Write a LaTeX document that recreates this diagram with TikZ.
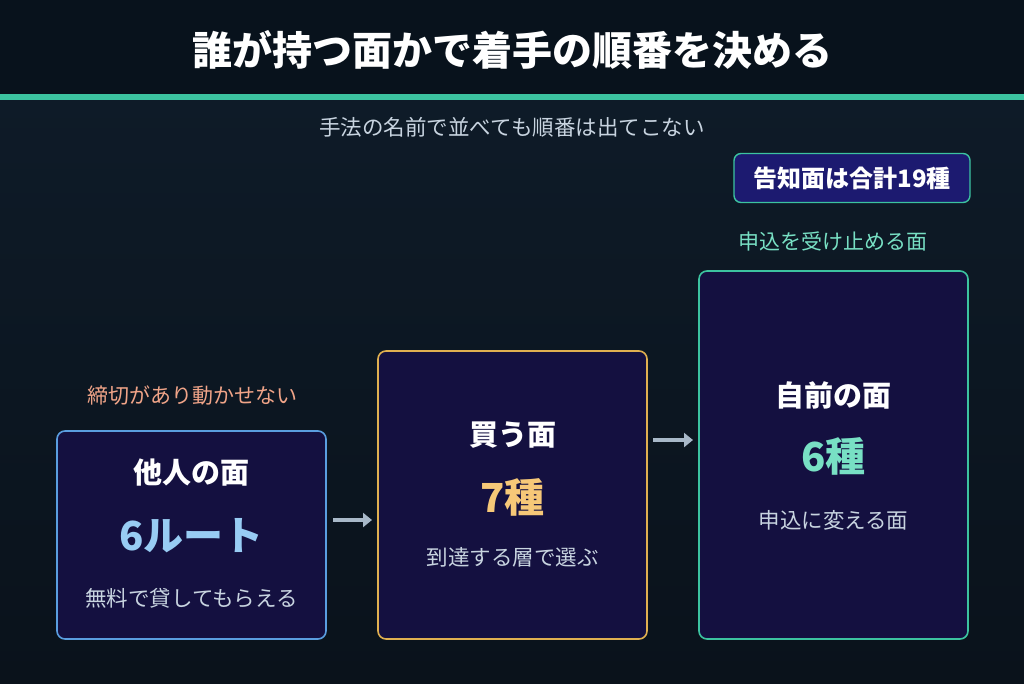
\documentclass[tikz,border=0pt]{standalone}
\usetikzlibrary{arrows.meta}
\usepackage{fontspec}
\setmainfont{Noto Sans CJK JP}
\definecolor{bgtop}{HTML}{0E1B28}
\definecolor{bgbot}{HTML}{0A121B}
\definecolor{titlebg}{HTML}{08121C}
\definecolor{teal}{HTML}{3CC3A0}
\definecolor{boxfill}{HTML}{141040}
\definecolor{bblue}{HTML}{5A9EE0}
\definecolor{bgold}{HTML}{E0B050}
\definecolor{tealtxt}{HTML}{78E0C4}
\definecolor{bluetxt}{HTML}{98CCF4}
\definecolor{goldtxt}{HTML}{F6C878}
\definecolor{salmon}{HTML}{F0A488}
\definecolor{sub}{HTML}{C8D4E0}
\definecolor{arr}{HTML}{A8B8C8}
\definecolor{badge}{HTML}{1C1A70}
\begin{document}
\begin{tikzpicture}[x=1pt,y=-1pt,
 box/.style={draw,line width=1.6pt,fill=boxfill,rounded corners=8pt},
 head/.style={text=white,font=\bfseries\fontsize{29}{33}\selectfont},
 big/.style={font=\bfseries\fontsize{40}{44}\selectfont},
 desc/.style={text=sub,font=\fontsize{21.5}{25}\selectfont},
 lab/.style={font=\fontsize{21}{25}\selectfont},
 ar/.style={draw=arr,line width=4pt,-{Triangle[length=9pt,width=14pt]}}]
\useasboundingbox (0,0) rectangle (1024,683);
\shade[top color=bgtop,bottom color=bgbot] (0,95) rectangle (1024,683);
\fill[titlebg] (0,0) rectangle (1024,95);
\fill[teal] (0,94) rectangle (1024,100);
\node[text=white,font=\bfseries\fontsize{40}{46}\selectfont] (title) at (512,50) {誰が持つ面かで着手の順番を決める};
\node[desc,font=\fontsize{21.5}{25}\selectfont] (subt) at (512,127) {手法の名前で並べても順番は出てこない};
\node[draw=teal,line width=1.4pt,fill=badge,rounded corners=7pt,minimum width=236pt,minimum height=49pt,text=white,font=\bfseries\fontsize{24}{28}\selectfont] (badge) at (852,178) {告知面は合計19種};
\node[lab,text=tealtxt] (l3) at (833,241) {申込を受け止める面};
\node[lab,text=salmon] (l1) at (192,396) {締切があり動かせない};
\node[box,draw=bblue,minimum width=269pt,minimum height=208pt] (b1) at (191.5,535) {};
\node[box,draw=bgold,minimum width=269pt,minimum height=288pt] (b2) at (512.5,495) {};
\node[box,draw=teal,minimum width=269pt,minimum height=368pt] (b3) at (833.5,455) {};
\node[head] (h1) at (191.5,473) {他人の面};
\node[big,text=bluetxt] (n1) at (191.5,536) {6ルート};
\node[desc] (d1) at (191.5,598) {無料で貸してもらえる};
\node[head] (h2) at (512.5,435) {買う面};
\node[big,text=goldtxt] (n2) at (512.5,497) {7種};
\node[desc] (d2) at (512.5,557) {到達する層で選ぶ};
\node[head] (h3) at (833.5,395) {自前の面};
\node[big,text=tealtxt] (n3) at (833.5,456) {6種};
\node[desc] (d3) at (833.5,520) {申込に変える面};
\coordinate (a1s) at (333,520); \coordinate (a1e) at (372,520);
\coordinate (a2s) at (653,440); \coordinate (a2e) at (693,440);
\draw[ar] (a1s) -- (a1e);
\draw[ar] (a2s) -- (a2e);
\end{tikzpicture}
\end{document}
